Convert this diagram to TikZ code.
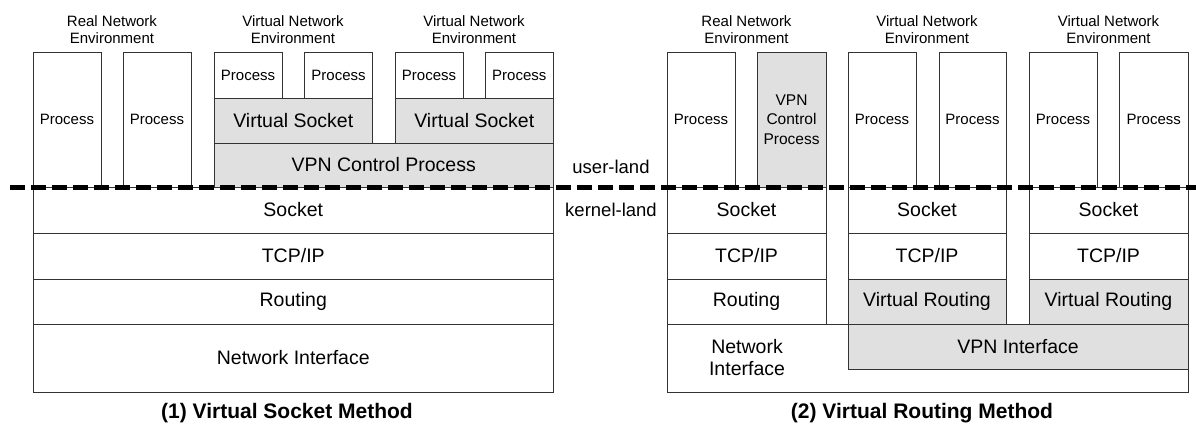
\documentclass[tikz,border=0pt]{standalone}
\usepackage{fontspec}
\setmainfont{Liberation Sans}
\begin{document}
\begin{tikzpicture}[x=1pt,y=-1pt,
  box/.style={draw=black!80, line width=0.8pt, inner sep=0pt, outer sep=0pt, anchor=north west, align=center},
  gbox/.style={box, fill=black!12},
  sm/.style={font=\fontsize{15}{17}\selectfont},
  smv/.style={font=\fontsize{15.5}{19.5}\selectfont},
  big/.style={font=\fontsize{19.5}{22}\selectfont},
  lbl/.style={inner sep=0pt, align=center},
  ttl/.style={inner sep=0pt, font=\fontsize{21}{24}\selectfont\bfseries},
  divider/.style={line width=4.5pt, dash pattern=on 15pt off 6pt},
]
\useasboundingbox (0,0) rectangle (1196,423);

% ---------------- (1) Virtual Socket Method ----------------
\node[lbl,sm] (envA1) at (112,29.5) {Real Network\\Environment};
\node[lbl,sm] (envA2) at (293,29.5) {Virtual Network\\Environment};
\node[lbl,sm] (envA3) at (474,29.5) {Virtual Network\\Environment};

\node[box,sm,minimum width=68pt,minimum height=135pt] (arp1) at (33,52) {Process};
\node[box,sm,minimum width=68pt,minimum height=135pt] (arp2) at (123,52) {Process};

\node[box,sm,minimum width=68pt,minimum height=46pt] (av1p1) at (214,52) {Process};
\node[box,sm,minimum width=68pt,minimum height=46pt] (av1p2) at (304.5,52) {Process};
\node[gbox,big,minimum width=158.5pt,minimum height=45pt] (avs1) at (214,98) {Virtual Socket};

\node[box,sm,minimum width=68pt,minimum height=46pt] (av2p1) at (395,52) {Process};
\node[box,sm,minimum width=68.5pt,minimum height=46pt] (av2p2) at (485,52) {Process};
\node[gbox,big,minimum width=158.5pt,minimum height=45pt] (avs2) at (395,98) {Virtual Socket};

\node[gbox,big,minimum width=339.5pt,minimum height=44pt] (avpn) at (214,143) {VPN Control Process};

\node[box,big,minimum width=520.5pt,minimum height=46pt] (asock) at (33,187) {Socket};
\node[box,big,minimum width=520.5pt,minimum height=46pt] (atcp) at (33,233) {TCP/IP};
\node[box,big,minimum width=520.5pt,minimum height=45pt] (arout) at (33,279) {Routing};
\node[box,big,minimum width=520.5pt,minimum height=68pt] (ani) at (33,324) {Network Interface};

\node[ttl] (ttl1) at (287,413) {(1) Virtual Socket Method};

% ---------------- middle labels ----------------
\node[lbl,font=\fontsize{18.5}{21}\selectfont] (uland) at (611,167) {user-land};
\node[lbl,font=\fontsize{18.5}{21}\selectfont] (kland) at (611,210) {kernel-land};

% ---------------- (2) Virtual Routing Method ----------------
\node[lbl,sm] (envB1) at (746.5,29.5) {Real Network\\Environment};
\node[lbl,sm] (envB2) at (927,29.5) {Virtual Network\\Environment};
\node[lbl,sm] (envB3) at (1108.5,29.5) {Virtual Network\\Environment};

\node[box,sm,minimum width=68pt,minimum height=135pt] (brp) at (667,52) {Process};
\node[gbox,smv,minimum width=69pt,minimum height=135pt] (bvpn) at (757,52) {VPN\\Control\\Process};

\node[box,sm,minimum width=68pt,minimum height=135pt] (bv1p1) at (848,52) {Process};
\node[box,sm,minimum width=67pt,minimum height=135pt] (bv1p2) at (939,52) {Process};
\node[box,sm,minimum width=68pt,minimum height=135pt] (bv2p1) at (1029,52) {Process};
\node[box,sm,minimum width=68.5pt,minimum height=135pt] (bv2p2) at (1119.5,52) {Process};

% network interface (outer) and VPN interface
\node[box,minimum width=521pt,minimum height=68pt] (bni) at (667,324) {};
\node[lbl,big] (bnitxt) at (747,357.5) {Network\\Interface};
\node[gbox,big,minimum width=340pt,minimum height=45pt] (bvpni) at (848,324) {VPN Interface};

% real stack
\node[box,big,minimum width=159pt,minimum height=46pt] (b0sock) at (667,187) {Socket};
\node[box,big,minimum width=159pt,minimum height=46pt] (b0tcp) at (667,233) {TCP/IP};
\node[box,big,minimum width=159pt,minimum height=45pt] (b0rout) at (667,279) {Routing};

% virtual stack 1
\node[box,big,minimum width=158pt,minimum height=46pt] (b1sock) at (848,187) {Socket};
\node[box,big,minimum width=158pt,minimum height=46pt] (b1tcp) at (848,233) {TCP/IP};
\node[gbox,big,minimum width=158pt,minimum height=45pt] (b1rout) at (848,279) {Virtual Routing};

% virtual stack 2
\node[box,big,minimum width=159pt,minimum height=46pt] (b2sock) at (1029,187) {Socket};
\node[box,big,minimum width=159pt,minimum height=46pt] (b2tcp) at (1029,233) {TCP/IP};
\node[gbox,big,minimum width=159pt,minimum height=45pt] (b2rout) at (1029,279) {Virtual Routing};

\node[ttl] (ttl2) at (922,413) {(2) Virtual Routing Method};

% ---------------- user/kernel divider ----------------
\coordinate (divL) at (10,187.5);
\coordinate (divR) at (1196,187.5);
\draw[divider] (divL) -- (divR);
\end{tikzpicture}
\end{document}
